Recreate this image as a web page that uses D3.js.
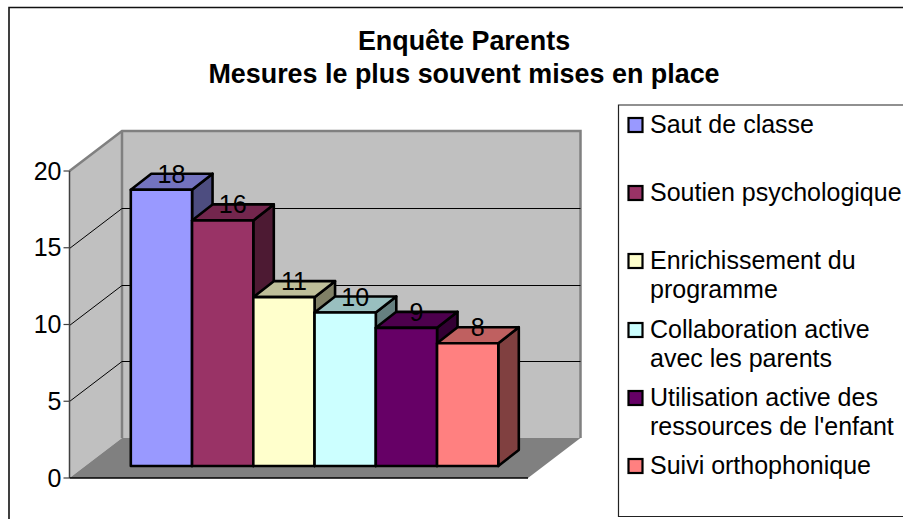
<!DOCTYPE html>
<html><head><meta charset="utf-8">
<script src="https://cdn.jsdelivr.net/npm/d3@7/dist/d3.min.js"></script>
<style>html,body{margin:0;padding:0;background:#fff}svg{display:block}text{font-family:"Liberation Sans",Arial,sans-serif;fill:#000}</style>
</head><body><svg id="c" width="903" height="519"></svg>
<script>
const categories=["Saut de classe","Soutien psychologique","Enrichissement du programme","Collaboration active avec les parents","Utilisation active des ressources de l'enfant","Suivi orthophonique"];
const values=[18,16,11,10,9,8];
const colors=["#9999FF","#993366","#FFFFCC","#CCFFFF","#660066","#FF8080"];
const yTicks=[0,5,10,15,20];
const titleLines=["Enquête Parents","Mesures le plus souvent mises en place"];
const legendLines=[["Saut de classe"],["Soutien psychologique"],["Enrichissement du","programme"],["Collaboration active","avec les parents"],["Utilisation active des","ressources de l'enfant"],["Suivi orthophonique"]];
const legendY=[125,193,261,330,398,466];

const svg=d3.select("#c");
const y=d3.scaleLinear().domain([0,20]).range([478,171]);
const x=d3.scaleBand().domain(categories).range([130.8,498.3]);
const wall={dx:52.5,dy:-40}, bar={dx:20.5,dy:-16,oy:-12};
const L=69.5,R=528;
const poly=(pts,fill,stroke,sw)=>svg.append("polygon").attr("points",pts.map(p=>p.join(",")).join(" ")).attr("fill",fill).attr("stroke",stroke||"none").attr("stroke-width",sw||0).attr("stroke-linejoin","round");
const line=(a,b,st,sw)=>svg.append("line").attr("x1",a[0]).attr("y1",a[1]).attr("x2",b[0]).attr("y2",b[1]).attr("stroke",st).attr("stroke-width",sw);

// chart frame
svg.append("path").attr("d","M9,519V7.5H903").attr("fill","none").attr("stroke","#111").attr("stroke-width",1.6);

// walls
const y0=y(0),y20=y(20);
poly([[L,y0],[L,y20],[L+wall.dx,y20+wall.dy],[L+wall.dx,y0+wall.dy]],"#C0C0C0");
poly([[L+wall.dx,y0+wall.dy],[L+wall.dx,y20+wall.dy],[R+wall.dx,y20+wall.dy],[R+wall.dx,y0+wall.dy]],"#C0C0C0");
poly([[L,y0],[L+wall.dx,y0+wall.dy],[R+wall.dx,y0+wall.dy],[R,y0]],"#808080");
// wall edges
svg.append("path").attr("d",`M${L},${y20}L${L+wall.dx},${y20+wall.dy}H${R+wall.dx}V${y0+wall.dy}`).attr("fill","none").attr("stroke","#808080").attr("stroke-width",2.5);
line([L+wall.dx,y20+wall.dy],[L+wall.dx,y0+wall.dy],"#808080",2.5);
// gridlines
yTicks.filter(t=>t>0&&t<20).forEach(t=>{
  const v=Math.round(y(t))+0.5;
  line([L,v],[L+wall.dx,v+wall.dy],"#000",1);
  line([L+wall.dx,v+wall.dy],[R+wall.dx,v+wall.dy],"#000",1);
});
// axes
line([L,y20],[L,y0],"#404040",1.5);
line([L,y0],[R,y0],"#000",1.5);
yTicks.forEach(t=>{
  const v=y(t);
  line([L-6,v],[L,v],"#404040",1.2);
  svg.append("text").attr("x",L-8).attr("y",v+8.5).attr("text-anchor","end").attr("font-size",25).text(t);
});
// bars, left to right so that each bar covers its neighbour's side
categories.forEach((c,i)=>{
  const x0=x(c),x1=x0+x.bandwidth(),b=y0+bar.oy,t=y(values[i])+bar.oy;
  const q=d3.rgb(colors[i]);
  const dk=f=>d3.rgb(q.r*f,q.g*f,q.b*f).formatHex();
  const g=2.6;
  poly([[x1,t],[x1+bar.dx,t+bar.dy],[x1+bar.dx,b+bar.dy],[x1,b]],dk(0.5),"#000",g);
  poly([[x0,t],[x0+bar.dx,t+bar.dy],[x1+bar.dx,t+bar.dy],[x1,t]],dk(0.75),"#000",g);
  poly([[x0,b],[x0,t],[x1,t],[x1,b]],colors[i],"#000",g);
});
categories.forEach((c,i)=>{
  svg.append("text").attr("x",x(c)+x.bandwidth()/2+10).attr("y",y(values[i])+bar.oy-7).attr("text-anchor","middle").attr("font-size",25).text(values[i]);
});
// title
titleLines.forEach((t,i)=>svg.append("text").attr("x",464).attr("y",50+i*33).attr("text-anchor","middle").attr("font-size",26.9).attr("font-weight","bold").text(t));
// legend
svg.append("path").attr("d","M903,105H618.5V516.5H903").attr("fill","none").attr("stroke","#222").attr("stroke-width",1.2);
categories.forEach((c,i)=>{
  const ly=legendY[i];
  svg.append("rect").attr("x",628.5).attr("y",ly-7).attr("width",14).attr("height",14).attr("fill",colors[i]).attr("stroke","#000").attr("stroke-width",2.2);
  legendLines[i].forEach((s,j)=>svg.append("text").attr("x",650).attr("y",ly+8+j*28.5).attr("font-size",25).text(s));
});
</script></body></html>
